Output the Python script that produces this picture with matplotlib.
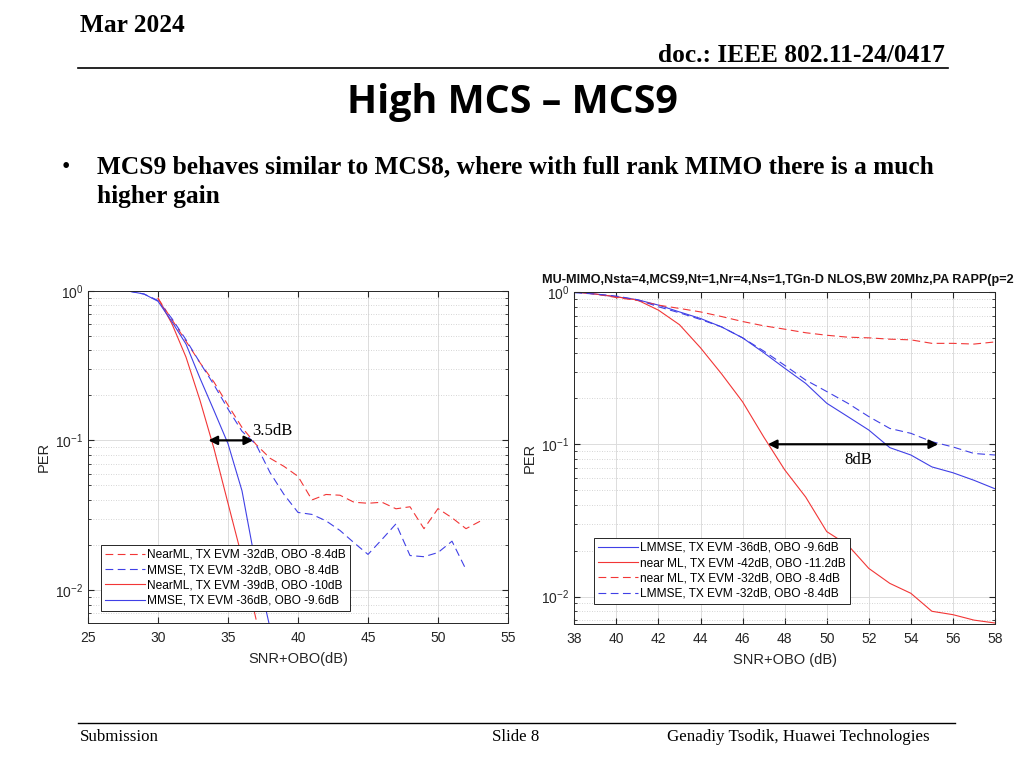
import matplotlib
matplotlib.use("Agg")
import matplotlib.pyplot as plt
from matplotlib.ticker import LogLocator, FixedLocator, NullFormatter

plt.rcParams["font.family"] = ["Liberation Sans", "DejaVu Sans"]
plt.rcParams["mathtext.fontset"] = "custom"
plt.rcParams["mathtext.rm"] = "Liberation Sans"
plt.rcParams["mathtext.it"] = "Liberation Sans:italic"
plt.rcParams["mathtext.bf"] = "Liberation Sans:bold"

# ---------------- data: left chart (MCS9) ----------------
left_snr_nearml_32 = [30, 31, 32, 33, 34, 35, 36, 37, 38, 39, 40, 41, 42, 43, 44, 45, 46, 47, 48, 49, 50, 51, 52, 53]
left_per_nearml_32 = [0.89, 0.64, 0.46, 0.33, 0.245, 0.172, 0.122, 0.094, 0.076, 0.067, 0.0575, 0.040, 0.0435, 0.043,
                      0.0386, 0.038, 0.0386, 0.0349, 0.036, 0.0257, 0.035, 0.0304, 0.0257, 0.0288]
left_snr_mmse_32 = [27, 28, 29, 30, 31, 32, 33, 34, 35, 36, 37, 38, 39, 40, 41, 42, 43, 44, 45, 46, 47, 48, 49, 50, 51, 52]
left_per_mmse_32 = [1.0, 0.99, 0.95, 0.86, 0.65, 0.47, 0.33, 0.235, 0.162, 0.115, 0.094, 0.061, 0.0435, 0.033, 0.032,
                    0.029, 0.025, 0.0207, 0.0173, 0.0218, 0.0277, 0.017, 0.0167, 0.0178, 0.0212, 0.0137]
left_snr_nearml_39 = [30, 31, 32, 33, 34, 35, 36, 37]
left_per_nearml_39 = [0.89, 0.60, 0.36, 0.185, 0.088, 0.038, 0.0165, 0.0064]
left_snr_mmse_36 = [27, 28, 29, 30, 31, 32, 33, 34, 35, 36, 37, 38]
left_per_mmse_36 = [1.0, 0.99, 0.95, 0.85, 0.62, 0.44, 0.26, 0.158, 0.095, 0.046, 0.0145, 0.0056]
left_labels = ["NearML, TX EVM -32dB, OBO -8.4dB", "MMSE, TX EVM -32dB, OBO -8.4dB",
               "NearML, TX EVM -39dB, OBO -10dB", "MMSE, TX EVM -36dB, OBO -9.6dB"]
left_xticks = [25, 30, 35, 40, 45, 50, 55]

# ---------------- data: right chart (MU-MIMO) ----------------
right_snr = [38, 39, 40, 41, 42, 43, 44, 45, 46, 47, 48, 49, 50, 51, 52, 53, 54, 55, 56, 57, 58]
right_per_lmmse_36 = [1.0, 0.97, 0.93, 0.89, 0.82, 0.74, 0.67, 0.59, 0.50, 0.40, 0.316, 0.251, 0.186, 0.152, 0.124,
                      0.095, 0.085, 0.071, 0.065, 0.058, 0.051]
right_per_nearml_42 = [1.0, 0.97, 0.93, 0.886, 0.76, 0.61, 0.43, 0.29, 0.19, 0.112, 0.068, 0.045, 0.0267, 0.0218,
                       0.0153, 0.0122, 0.0105, 0.008, 0.0076, 0.0070, 0.0067]
right_per_nearml_32 = [1.0, 0.97, 0.92, 0.88, 0.82, 0.78, 0.74, 0.69, 0.64, 0.60, 0.57, 0.54, 0.52, 0.505, 0.50,
                       0.49, 0.485, 0.46, 0.46, 0.455, 0.47]
right_per_lmmse_32 = [0.99, 0.97, 0.94, 0.89, 0.80, 0.73, 0.66, 0.59, 0.50, 0.41, 0.33, 0.264, 0.222, 0.186, 0.152,
                      0.127, 0.118, 0.104, 0.096, 0.087, 0.085]
right_labels = ["LMMSE, TX EVM -36dB, OBO -9.6dB", "near ML, TX EVM -42dB, OBO -11.2dB",
                "near ML, TX EVM -32dB, OBO -8.4dB", "LMMSE, TX EVM -32dB, OBO -8.4dB"]
right_xticks = [38, 40, 42, 44, 46, 48, 50, 52, 54, 56, 58]
right_title = "MU-MIMO,Nsta=4,MCS9,Nt=1,Nr=4,Ns=1,TGn-D NLOS,BW 20Mhz,PA RAPP(p=2"

W, H = 1024, 768
RED = "#f23636"
BLUE = "#4040e6"
DASH = (7, 4)

fig = plt.figure(figsize=(W / 100, H / 100), dpi=100)
fig.patch.set_facecolor("white")


def px_axes(l, t, r, b):
    return fig.add_axes([l / W, 1 - b / H, (r - l) / W, (b - t) / H])


def style_axes(ax, xlim, ylim, xticks, xlabel):
    ax.set_yscale("log")
    ax.set_xlim(*xlim)
    ax.set_ylim(*ylim)
    ax.xaxis.set_major_locator(FixedLocator(xticks))
    ax.yaxis.set_major_locator(LogLocator(base=10, numticks=10))
    ax.yaxis.set_minor_locator(LogLocator(base=10, subs=range(2, 10), numticks=20))
    ax.yaxis.set_minor_formatter(NullFormatter())
    ax.grid(True, which="major", axis="both", color="#dcdcdc", lw=0.7, ls="-")
    ax.grid(True, which="minor", axis="y", color="#c8c8c8", lw=0.6, ls=(0, (1, 2)))
    ax.set_axisbelow(True)
    ax.tick_params(which="both", direction="in", top=True, right=True, labelsize=10,
                   color="#262626", labelcolor="#262626")
    ax.tick_params(which="major", length=4)
    ax.tick_params(which="minor", length=2)
    ax.tick_params(axis="x", pad=6)
    for s in ax.spines.values():
        s.set_color("#262626")
        s.set_linewidth(0.7)
    ax.set_xlabel(xlabel, fontsize=10.5, color="#262626", labelpad=5)
    ax.set_ylabel("PER", fontsize=10.5, color="#262626", labelpad=3)


# ---------------- left chart ----------------
axL = px_axes(88, 290.7, 508, 622.7)
axL.plot(left_snr_nearml_32, left_per_nearml_32, color=RED, lw=0.8, dashes=DASH, label=left_labels[0])
axL.plot(left_snr_mmse_32, left_per_mmse_32, color=BLUE, lw=0.8, dashes=DASH, label=left_labels[1])
axL.plot(left_snr_nearml_39, left_per_nearml_39, color=RED, lw=0.8, label=left_labels[2])
axL.plot(left_snr_mmse_36, left_per_mmse_36, color=BLUE, lw=0.8, label=left_labels[3])
style_axes(axL, (25, 55), (0.00605, 1.0), left_xticks, "SNR+OBO(dB)")
legL = axL.legend(loc="lower left", bbox_to_anchor=(0.031, 0.035), borderaxespad=0, fontsize=8.6,
                  frameon=True, fancybox=False, framealpha=1, edgecolor="#262626",
                  handlelength=3.3, handletextpad=0.2, labelspacing=0.28, borderpad=0.35)
legL.get_frame().set_linewidth(0.7)
axL.annotate("", xy=(33.6, 0.1), xytext=(36.8, 0.1),
             arrowprops=dict(arrowstyle="<|-|>", color="black", lw=1.6, mutation_scale=13,
                             shrinkA=0, shrinkB=0))
axL.text(36.75, 0.116, "3.5dB", family="Liberation Serif", fontsize=12, ha="left", va="center")

# ---------------- right chart ----------------
axR = px_axes(574.3, 292, 995, 624)
axR.plot(right_snr, right_per_lmmse_36, color=BLUE, lw=0.8, label=right_labels[0])
axR.plot(right_snr, right_per_nearml_42, color=RED, lw=0.8, label=right_labels[1])
axR.plot(right_snr, right_per_nearml_32, color=RED, lw=0.8, dashes=DASH, label=right_labels[2])
axR.plot(right_snr, right_per_lmmse_32, color=BLUE, lw=0.8, dashes=DASH, label=right_labels[3])
style_axes(axR, (38, 58), (0.0066, 1.0), right_xticks, "SNR+OBO (dB)")
legR = axR.legend(loc="lower left", bbox_to_anchor=(0.047, 0.06), borderaxespad=0, fontsize=8.6,
                  frameon=True, fancybox=False, framealpha=1, edgecolor="#262626",
                  handlelength=3.3, handletextpad=0.2, labelspacing=0.28, borderpad=0.35)
legR.get_frame().set_linewidth(0.7)
axR.annotate("", xy=(47.2, 0.1), xytext=(55.3, 0.1),
             arrowprops=dict(arrowstyle="<|-|>", color="black", lw=1.6, mutation_scale=13,
                             shrinkA=0, shrinkB=0))
axR.text(51.5, 0.079, "8dB", family="Liberation Serif", fontsize=12, ha="center", va="center")
fig.text(541.7 / W, 1 - 280 / H, right_title, fontsize=9.1, fontweight="bold", ha="left", va="center",
         color="#111111")

# ---------------- slide decorations ----------------
serif = "Liberation Serif"
fig.text(80 / W, 1 - 25 / H, "Mar 2024", family=serif, fontsize=18.3, fontweight="bold", ha="left", va="center")
fig.text(945 / W, 1 - 55 / H, "doc.: IEEE 802.11-24/0417", family=serif, fontsize=18.3, fontweight="bold",
         ha="right", va="center")
fig.add_artist(plt.Line2D([78 / W, 948 / W], [1 - 68 / H, 1 - 68 / H], color="black", lw=1.2))
fig.text(512 / W, 1 - 103 / H, "High MCS \u2013 MCS9", family="Open Sans", fontsize=28.4, fontweight="bold",
         ha="center", va="center")
fig.text(62 / W, 1 - 168 / H, "\u2022", family=serif, fontsize=17, ha="left", va="center")
fig.text(97 / W, 1 - 167 / H, "MCS9 behaves similar to MCS8, where with full rank MIMO there is a much",
         family=serif, fontsize=18.3, fontweight="bold", ha="left", va="center")
fig.text(97 / W, 1 - 197 / H, "higher gain", family=serif, fontsize=18.3, fontweight="bold", ha="left", va="center")
fig.add_artist(plt.Line2D([78 / W, 955 / W], [1 - 723 / H, 1 - 723 / H], color="black", lw=1.0))
fig.text(80 / W, 1 - 737 / H, "Submission", family=serif, fontsize=12.2, ha="left", va="center")
fig.text(516 / W, 1 - 737 / H, "Slide 8", family=serif, fontsize=12.2, ha="center", va="center")
fig.text(930 / W, 1 - 737 / H, "Genadiy Tsodik, Huawei Technologies", family=serif, fontsize=12.2,
         ha="right", va="center")

fig.savefig("out.png", dpi=100)
